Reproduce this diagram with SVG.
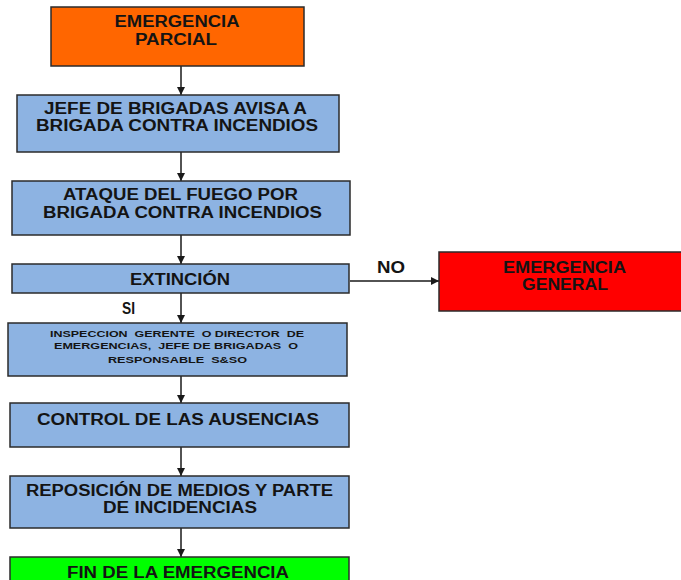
<svg xmlns="http://www.w3.org/2000/svg" width="681" height="580" viewBox="0 0 681 580">
<style>
.box{stroke:#2b2b2b;stroke-width:1.5}
.blue{fill:#8db3e2}
.t{font-family:"Liberation Sans",Arial,sans-serif;font-weight:bold;font-size:16px;fill:#141414;text-anchor:middle}
.s{font-size:8.5px;white-space:pre}
.c{stroke:#1a1a1a;stroke-width:1.5;fill:none}
</style>
<defs>
<marker id="ah" viewBox="0 0 10 10" refX="10" refY="5" markerWidth="8" markerHeight="8" markerUnits="userSpaceOnUse" orient="auto">
<path d="M0,0 L10,5 L0,10 z" fill="#1a1a1a"/>
</marker>
</defs>
<rect width="681" height="580" fill="#ffffff"/>
<g id="connectors">
<line class="c" x1="181" y1="66" x2="181" y2="95" marker-end="url(#ah)"/>
<line class="c" x1="181" y1="152" x2="181" y2="181" marker-end="url(#ah)"/>
<line class="c" x1="181" y1="235" x2="181" y2="264" marker-end="url(#ah)"/>
<line class="c" x1="181" y1="293" x2="181" y2="323" marker-end="url(#ah)"/>
<line class="c" x1="181" y1="376" x2="181" y2="403" marker-end="url(#ah)"/>
<line class="c" x1="181" y1="447" x2="181" y2="476" marker-end="url(#ah)"/>
<line class="c" x1="181" y1="528" x2="181" y2="557" marker-end="url(#ah)"/>
<line class="c" x1="350" y1="281" x2="439" y2="281" stroke-width="1" marker-end="url(#ah)"/>
<text class="t" x="391" y="272.5" textLength="28" lengthAdjust="spacingAndGlyphs">NO</text>
<text class="t" x="128.5" y="313.5" textLength="13" lengthAdjust="spacingAndGlyphs">SI</text>
</g>
<g id="n1">
<rect class="box" x="51" y="7" width="253" height="59" fill="#ff6600"/>
<text class="t" x="177" y="26.5" textLength="125" lengthAdjust="spacingAndGlyphs">EMERGENCIA</text>
<text class="t" x="176" y="44.5" textLength="82" lengthAdjust="spacingAndGlyphs">PARCIAL</text>
</g>
<g id="n2">
<rect class="box blue" x="17" y="95" width="322" height="57"/>
<text class="t" x="175.5" y="114" textLength="263" lengthAdjust="spacingAndGlyphs">JEFE DE BRIGADAS AVISA A</text>
<text class="t" x="177" y="131" textLength="282" lengthAdjust="spacingAndGlyphs">BRIGADA CONTRA INCENDIOS</text>
</g>
<g id="n3">
<rect class="box blue" x="12" y="181" width="338" height="54"/>
<text class="t" x="180.5" y="200" textLength="235" lengthAdjust="spacingAndGlyphs">ATAQUE DEL FUEGO POR</text>
<text class="t" x="182.5" y="218" textLength="279" lengthAdjust="spacingAndGlyphs">BRIGADA CONTRA INCENDIOS</text>
</g>
<g id="n4">
<rect class="box blue" x="12" y="264" width="337" height="29"/>
<text class="t" x="180" y="284.5" textLength="100" lengthAdjust="spacingAndGlyphs">EXTINCIÓN</text>
</g>
<g id="n5">
<rect class="box" x="439" y="252" width="245" height="59" fill="#ff0000"/>
<text class="t" x="564.5" y="272.5" textLength="123" lengthAdjust="spacingAndGlyphs">EMERGENCIA</text>
<text class="t" x="565" y="289.5" textLength="86" lengthAdjust="spacingAndGlyphs">GENERAL</text>
</g>
<g id="n6">
<rect class="box blue" x="8" y="323" width="339" height="53"/>
<text class="t s" x="177" y="337" textLength="254" lengthAdjust="spacingAndGlyphs">INSPECCION  GERENTE  O DIRECTOR  DE</text>
<text class="t s" x="176" y="348.5" textLength="244" lengthAdjust="spacingAndGlyphs">EMERGENCIAS,  JEFE DE BRIGADAS  O</text>
<text class="t s" x="177.5" y="363" textLength="139" lengthAdjust="spacingAndGlyphs">RESPONSABLE  S&amp;SO</text>
</g>
<g id="n7">
<rect class="box blue" x="10" y="403" width="339" height="44"/>
<text class="t" x="178" y="425" textLength="282" lengthAdjust="spacingAndGlyphs">CONTROL DE LAS AUSENCIAS</text>
</g>
<g id="n8">
<rect class="box blue" x="10" y="476" width="339" height="52"/>
<text class="t" x="179.5" y="496" textLength="307" lengthAdjust="spacingAndGlyphs">REPOSICIÓN DE MEDIOS Y PARTE</text>
<text class="t" x="180" y="513" textLength="154" lengthAdjust="spacingAndGlyphs">DE INCIDENCIAS</text>
</g>
<g id="n9">
<rect class="box" x="10" y="557" width="339" height="30" fill="#00ff00"/>
<text class="t" x="178" y="578" textLength="222" lengthAdjust="spacingAndGlyphs">FIN DE LA EMERGENCIA</text>
</g>
</svg>
